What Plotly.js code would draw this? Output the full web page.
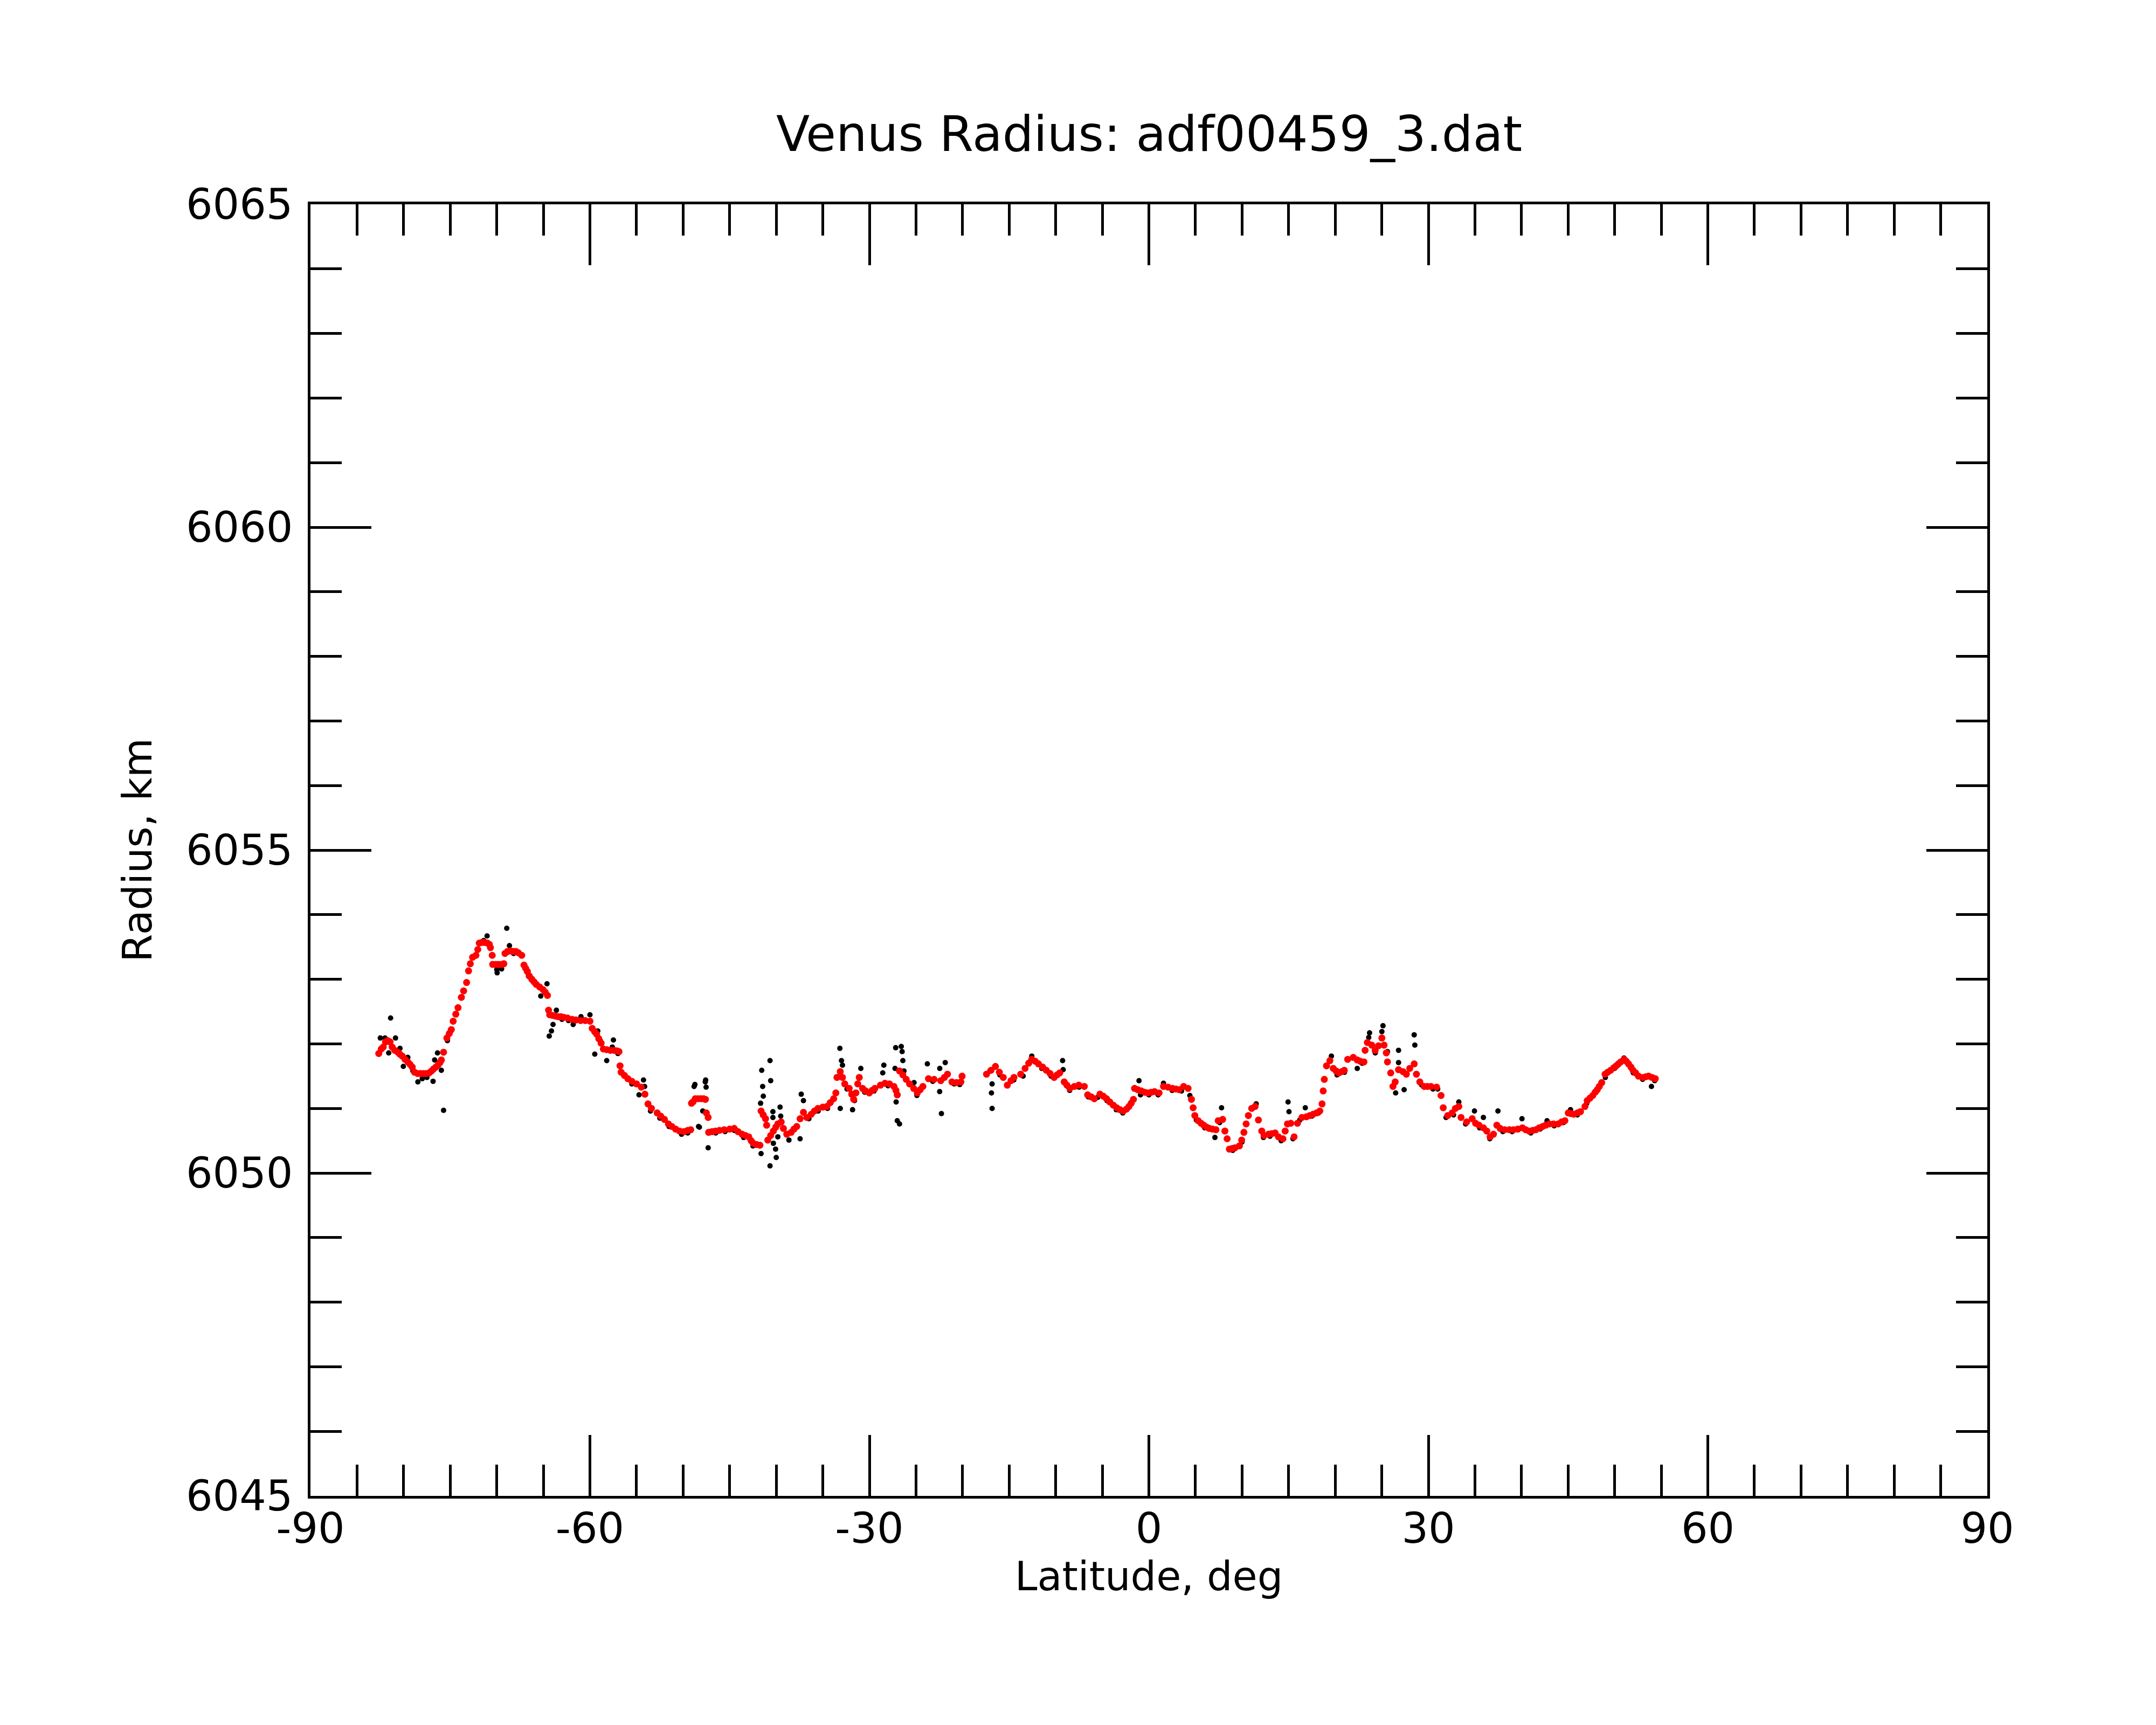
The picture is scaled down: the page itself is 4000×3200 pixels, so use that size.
<!DOCTYPE html>
<html>
<head>
<meta charset="utf-8">
<script src="https://cdn.plot.ly/plotly-3.0.1.min.js"></script>
<style>html,body{margin:0;padding:0;background:#fff;}</style>
</head>
<body>
<div id="chart" style="width:4000px;height:3200px;"></div>
<script>
// Smoothed radius profile (red)
var smoothLat = [
-82.67,-82.4,-82.19,-81.95,-81.71,-81.45,-81.23,-80.95,-80.63,-80.4,-80.15,-79.85,-79.55,-79.3,-79.07,-78.83,-78.5,-78.2,-77.9,-77.6,-77.27,-77.0,-76.79,-76.55,-76.31,-76.1,-75.95,-75.71,-75.36,-75.1,-74.88,-74.68,-74.4,-74.16,-73.8,-73.56,-73.24,-73.03,-72.84,-72.6,-72.24,-72.04,-71.88,-71.6,-71.3,-71.0,-70.8,-70.68,-70.49,-70.44,-70.1,-69.8,-69.5,-69.24,-69.12,-68.85,-68.55,-68.25,-67.95,-67.68,-67.32,-67.08,-66.9,-66.72,-66.5,-66.24,-66.0,-65.76,-65.4,-65.04,-64.8,-64.56,-64.44,-64.32,-64.0,-63.7,-63.4,-63.1,-62.8,-62.4,-61.92,-61.5,-61.0,-60.5,-60.0,-59.76,-59.5,-59.28,-59.05,-58.8,-58.56,-58.2,-57.8,-57.4,-57.1,-56.88,-56.77,-56.65,-56.3,-55.93,-55.5,-55.0,-54.49,-54.1,-53.77,
-53.4,-52.78,-52.4,-52.0,-51.58,-51.2,-50.8,-50.38,-49.9,-49.5,-49.18,-49.1,-48.94,-48.7,-48.4,-48.1,-47.8,-47.6,-47.5,-47.31,-47.26,-46.9,-46.54,-46.1,-45.59,-45.0,-44.51,-44.1,-43.67,-43.3,-42.95,-42.7,-42.47,-42.1,-41.75,-41.63,-41.4,-41.15,-41.03,-40.91,-40.6,-40.31,-40.05,-39.83,-39.47,-39.23,-38.87,-38.4,-38.1,-37.8,-37.44,-37.08,-36.72,-36.24,-35.9,-35.52,-35.0,-34.56,-34.2,-33.84,-33.6,-33.48,-33.13,-32.89,-32.65,-32.17,-31.9,-31.69,-31.45,-31.25,-31.09,-30.73,-30.4,-30.01,-29.7,-29.41,-28.81,-28.33,-27.85,-27.37,-27.15,-27.01,-26.77,-26.41,-26.05,-25.69,-25.25,-24.86,-24.55,-24.26,-23.66,-23.06,-22.34,-21.95,-21.62,-21.14,-20.66,-20.18,-20.05,
-17.43,-16.95,-16.47,-16.05,-15.63,-15.2,-14.8,-14.48,-13.76,-13.29,-12.9,-12.57,-12.2,-11.85,-11.4,-11.01,-10.6,-10.17,-9.85,-9.57,-9.09,-8.8,-8.49,-8.0,-7.53,-6.93,-6.57,-6.2,-5.86,-5.26,-4.9,-4.54,-4.2,-3.82,-3.45,-3.1,-2.74,-2.4,-2.14,-1.9,-1.66,-1.54,-1.2,-0.82,-0.45,-0.1,0.25,0.61,1.09,1.57,2.05,2.53,2.9,3.25,3.73,4.21,4.57,4.75,4.93,5.29,5.6,5.89,6.2,6.49,6.85,7.2,7.44,7.92,8.16,8.4,8.64,8.95,9.24,9.72,9.96,10.2,10.44,10.68,11.04,11.4,11.76,12.12,12.36,12.84,13.2,13.55,13.91,14.39,14.63,14.87,15.23,15.59,15.95,16.43,16.91,17.27,17.63,18.0,18.35,18.59,18.71,18.83,19.07,19.43,19.79,20.1,20.39,20.7,20.98,21.34,21.94,22.37,22.7,23.09,23.21,23.45,23.93,24.29,24.65,25.01,25.25,25.49,25.61,25.96,26.2,26.44,26.8,27.28,27.64,28.0,28.48,28.72,29.08,29.56,29.9,30.28,30.88,31.36,31.6,32.08,32.55,32.91,33.27,33.51,34.11,34.71,35.07,35.43,35.91,36.27,36.63,36.99,37.35,37.71,38.19,38.7,39.14,39.6,40.1,40.45,40.82,41.2,41.54,41.9,42.26,42.6,42.98,43.45,43.94,44.3,44.66,45.02,45.3,45.61,46.0,46.33,46.81,47.05,47.35,47.65,47.9,48.13,48.35,48.61,48.97,49.25,49.57,49.9,50.17,50.4,50.65,51.01,51.25,51.49,51.75,51.97,52.25,52.56,53.04,53.35,53.64,54.0,54.36
];
var smoothRadius = [
6051.85,6051.92,6051.95,6052.03,6052.05,6052.03,6051.95,6051.90,6051.87,6051.84,6051.81,6051.76,6051.72,6051.68,6051.64,6051.56,6051.54,6051.54,6051.54,6051.54,6051.55,6051.58,6051.61,6051.64,6051.67,6051.71,6051.75,6051.87,6052.09,6052.16,6052.22,6052.35,6052.46,6052.56,6052.72,6052.82,6052.95,6053.13,6053.24,6053.34,6053.37,6053.46,6053.56,6053.57,6053.57,6053.56,6053.54,6053.49,6053.37,6053.23,6053.23,6053.23,6053.23,6053.24,6053.40,6053.43,6053.44,6053.43,6053.43,6053.41,6053.37,6053.22,6053.17,6053.12,6053.05,6053.00,6052.96,6052.92,6052.88,6052.84,6052.80,6052.75,6052.52,6052.45,6052.44,6052.43,6052.42,6052.42,6052.41,6052.40,6052.38,6052.37,6052.36,6052.36,6052.35,6052.24,6052.19,6052.15,6052.08,6052.01,6051.92,6051.91,6051.90,6051.90,6051.89,6051.88,6051.66,6051.56,6051.51,6051.46,6051.42,6051.38,6051.33,6051.22,6051.07,
6051.00,6050.93,6050.88,6050.83,6050.76,6050.72,6050.68,6050.65,6050.64,6050.66,6050.67,6051.08,6051.10,6051.15,6051.15,6051.15,6051.15,6051.14,6050.93,6050.86,6050.63,6050.64,6050.65,6050.66,6050.67,6050.68,6050.69,6050.64,6050.60,6050.58,6050.56,6050.50,6050.46,6050.44,6050.43,6050.96,6050.90,6050.84,6050.74,6050.51,6050.58,6050.65,6050.71,6050.76,6050.79,6050.69,6050.60,6050.63,6050.68,6050.72,6050.84,6050.94,6050.86,6050.91,6050.96,6051.00,6051.02,6051.03,6051.09,6051.15,6051.24,6051.48,6051.57,6051.48,6051.38,6051.31,6051.22,6051.14,6051.24,6051.38,6051.48,6051.31,6051.27,6051.24,6051.28,6051.31,6051.36,6051.39,6051.38,6051.34,6051.28,6051.21,6051.58,6051.52,6051.45,6051.38,6051.31,6051.24,6051.29,6051.34,6051.46,6051.45,6051.43,6051.48,6051.53,6051.41,6051.40,6051.41,6051.50,
6051.53,6051.59,6051.65,6051.56,6051.48,6051.36,6051.43,6051.48,6051.53,6051.62,6051.70,6051.76,6051.73,6051.69,6051.64,6051.59,6051.54,6051.48,6051.52,6051.55,6051.41,6051.36,6051.31,6051.34,6051.36,6051.34,6051.21,6051.18,6051.15,6051.22,6051.19,6051.15,6051.10,6051.05,6051.01,6050.98,6050.96,6050.99,6051.03,6051.08,6051.14,6051.31,6051.29,6051.27,6051.25,6051.24,6051.25,6051.26,6051.24,6051.34,6051.33,6051.31,6051.30,6051.29,6051.34,6051.31,6051.14,6051.01,6050.89,6050.81,6050.77,6050.74,6050.71,6050.69,6050.68,6050.67,6050.81,6050.83,6050.65,6050.53,6050.37,6050.38,6050.39,6050.42,6050.51,6050.63,6050.76,6050.89,6051.00,6051.03,6050.82,6050.65,6050.58,6050.60,6050.61,6050.62,6050.56,6050.53,6050.65,6050.76,6050.77,6050.56,6050.77,6050.86,6050.87,6050.89,6050.91,6050.93,6050.96,6051.07,6051.27,6051.45,6051.66,6051.74,6051.62,6051.58,6051.55,6051.57,6051.59,6051.76,6051.79,6051.75,6051.73,6051.72,6051.90,6052.02,6051.98,6051.90,6051.97,6052.09,6051.98,6051.86,6051.72,6051.55,6051.34,6051.41,6051.60,6051.57,6051.53,6051.62,6051.69,6051.53,6051.41,6051.34,6051.34,6051.34,6051.33,6051.20,6051.01,6050.89,6050.93,6051.00,6051.03,6050.86,6050.79,6050.84,6050.77,6050.74,6050.70,6050.65,6050.56,6050.60,6050.74,6050.69,6050.67,6050.67,6050.67,6050.68,6050.70,6050.67,6050.65,6050.66,6050.67,6050.70,6050.72,6050.74,6050.76,6050.76,6050.76,6050.79,6050.81,6050.93,6050.92,6050.91,6050.93,6050.95,6051.03,6051.12,6051.16,6051.20,6051.25,6051.29,6051.34,6051.40,6051.53,6051.56,6051.59,6051.63,6051.66,6051.69,6051.72,6051.76,6051.73,6051.69,6051.64,6051.59,6051.55,6051.50,6051.48,6051.49,6051.50,6051.48,6051.46
];

// Raw radius measurements (black)
var rawLat = [
-82.5,-82.0,-81.6,-81.4,-80.87,-80.39,-80.03,-79.55,-79.0,-78.47,-78.0,-77.5,-76.84,-76.67,-76.36,-75.95,-75.71,-75.3,-71.4,-71.04,-70.0,-69.96,-69.48,-68.93,-68.64,-68.2,-66.6,-65.28,-64.61,-64.37,-64.13,-63.96,-63.6,-63.0,-62.3,-61.8,-60.96,-60.0,-59.48,-59.16,-58.9,-58.2,-57.6,-57.48,-57.0,-55.5,-54.73,-54.25,-54.13,-53.5,-52.5,-51.5,-50.17,-49.5,-48.82,-48.73,-48.34,-48.25,-47.89,-47.62,-47.58,-47.53,-47.31,-46.5,-45.5,-44.5,-43.5,-42.5,-41.68,-41.63,-41.56,-41.46,-41.39,-40.67,-40.67,-40.6,-40.36,-40.36,-40.31,-40.07,-40.0,-39.83,-39.59,-39.52,-38.64,-37.44,-37.32,-37.08,-36.5,-35.5,-34.5,-33.17,-33.13,-33.0,-32.89,-32.4,-31.81,-31.6,-30.92,-30.5,-29.5,-28.57,-28.45,-28.0,-27.25,-27.18,-27.13,-27.01,-26.77,-26.58,-26.49,-26.41,-26.29,-25.21,-24.9,-23.78,-23.2,-22.46,-22.45,-22.27,-21.86,-20.9,-20.3,
-17.07,-16.83,-16.9,-16.83,-16.0,-14.5,-13.5,-12.57,-11.5,-10.5,-9.26,-9.2,-8.5,-7.5,-6.5,-5.5,-4.5,-3.5,-2.8,-1.06,-0.9,0.0,1.0,1.57,2.5,3.5,4.4,5.1,6.0,7.09,7.6,7.8,9.0,10.0,11.52,12.3,13.0,14.2,14.94,15.04,15.47,16.2,16.79,17.5,18.2,19.59,20.2,21.0,22.37,22.9,23.6,23.69,24.3,25.01,25.13,25.61,26.49,26.8,26.8,27.4,28.48,28.55,29.3,30.5,31.0,31.9,32.7,33.27,34.0,34.95,35.5,35.91,36.6,37.47,38.0,39.0,40.05,41.0,42.0,42.74,43.5,44.5,45.26,46.0,47.0,48.0,49.0,50.0,51.0,52.0,53.0,53.95,54.3
];
var rawRadius = [
6052.09,6052.09,6051.86,6052.40,6052.09,6051.93,6051.65,6051.79,6051.58,6051.41,6051.46,6051.48,6051.42,6051.75,6051.86,6051.59,6050.97,6052.05,6053.60,6053.67,6053.15,6053.10,6053.16,6053.79,6053.52,6053.40,6053.05,6052.74,6052.93,6052.12,6052.20,6052.30,6052.52,6052.38,6052.36,6052.30,6052.42,6052.45,6051.84,6052.20,6052.05,6051.74,6051.95,6052.06,6051.85,6051.38,6051.21,6051.44,6051.34,6050.96,6050.85,6050.72,6050.60,6050.62,6051.34,6051.37,6050.72,6050.71,6050.96,6051.41,6051.44,6051.33,6050.39,6050.62,6050.64,6050.66,6050.55,6050.42,6051.08,6050.30,6051.59,6051.34,6051.19,6050.11,6051.74,6051.43,6050.95,6050.86,6050.46,6050.37,6050.24,6050.56,6051.02,6050.88,6050.51,6050.53,6051.22,6051.12,6050.84,6050.96,6051.00,6051.93,6051.00,6051.74,6051.67,6051.30,6050.98,6051.12,6051.62,6051.25,6051.27,6051.55,6051.67,6051.35,6051.62,6051.94,6051.10,6050.81,6050.76,6051.96,6051.88,6051.74,6051.58,6051.40,6051.20,6051.69,6051.42,6051.26,6051.62,6050.92,6051.71,6051.38,6051.37,
6051.58,6051.38,6051.24,6051.00,6051.52,6051.44,6051.50,6051.81,6051.62,6051.50,6051.74,6051.60,6051.28,6051.33,6051.18,6051.17,6051.12,6050.98,6050.93,6051.43,6051.21,6051.21,6051.21,6051.39,6051.28,6051.27,6051.20,6050.82,6050.70,6050.55,6050.78,6051.01,6050.35,6050.48,6051.07,6050.55,6050.57,6050.50,6051.10,6050.95,6050.53,6050.82,6051.01,6050.88,6050.93,6051.81,6051.52,6051.56,6051.62,6051.70,6052.10,6052.17,6051.86,6052.19,6052.28,6051.88,6051.24,6051.90,6051.71,6051.29,6052.14,6051.98,6051.36,6051.30,6051.30,6050.86,6050.90,6051.10,6050.76,6050.96,6050.70,6050.86,6050.53,6050.96,6050.64,6050.64,6050.84,6050.62,6050.68,6050.81,6050.73,6050.78,6050.98,6050.90,6051.08,6051.25,6051.48,6051.62,6051.78,6051.55,6051.45,6051.34,6051.43
];

var xTickVals = [-90,-60,-30,0,30,60,90];
var yTickVals = [6045,6050,6055,6060,6065];

var FONT = 'DejaVu Sans, Liberation Sans, sans-serif';

var traces = [
  {x: rawLat, y: rawRadius, type: 'scatter', mode: 'markers',
   marker: {color: '#000000', size: 10, line: {width: 0}}, hoverinfo: 'skip', showlegend: false},
  {x: smoothLat, y: smoothRadius, type: 'scatter', mode: 'markers',
   marker: {color: '#ff0000', size: 13, line: {width: 0}}, hoverinfo: 'skip', showlegend: false}
];

var axisCommon = {
  ticks: 'inside', ticklen: 113, tickwidth: 5, tickcolor: '#000',
  showline: true, linewidth: 5, linecolor: '#000', mirror: 'allticks',
  showgrid: false, zeroline: false,
  tickfont: {family: FONT, size: 78, color: '#000'}
};

var layout = {
  width: 4000, height: 3200,
  paper_bgcolor: '#fff', plot_bgcolor: '#fff',
  margin: {l: 576, r: 313, t: 379, b: 425, pad: 0},
  font: {family: FONT, color: '#000'},
  title: {text: 'Venus Radius: adf00459_3.dat', font: {family: FONT, size: 91, color: '#000'},
          x: 0.533, xref: 'container', xanchor: 'center', y: 1 - 248/3200, yref: 'container', yanchor: 'middle'},
  xaxis: Object.assign({}, axisCommon, {
    range: [-90, 90], tickmode: 'array', tickvals: xTickVals, ticktext: xTickVals.map(String),
    ticklabelstandoff: -12,
    minor: {dtick: 5, tick0: -90, ticks: 'inside', ticklen: 58, tickwidth: 5, tickcolor: '#000', showgrid: false},
    title: {text: 'Latitude, deg', font: {family: FONT, size: 75, color: '#000'}, standoff: 2}
  }),
  yaxis: Object.assign({}, axisCommon, {
    range: [6045, 6065], tickmode: 'array', tickvals: yTickVals, ticktext: yTickVals.map(String),
    ticklabelstandoff: 12,
    minor: {dtick: 1, tick0: 6045, ticks: 'inside', ticklen: 58, tickwidth: 5, tickcolor: '#000', showgrid: false},
    title: {text: 'Radius, km', font: {family: FONT, size: 75, color: '#000'}, standoff: 40}
  })
};

Plotly.newPlot('chart', traces, layout, {staticPlot: true, displayModeBar: false});
</script>
</body>
</html>
